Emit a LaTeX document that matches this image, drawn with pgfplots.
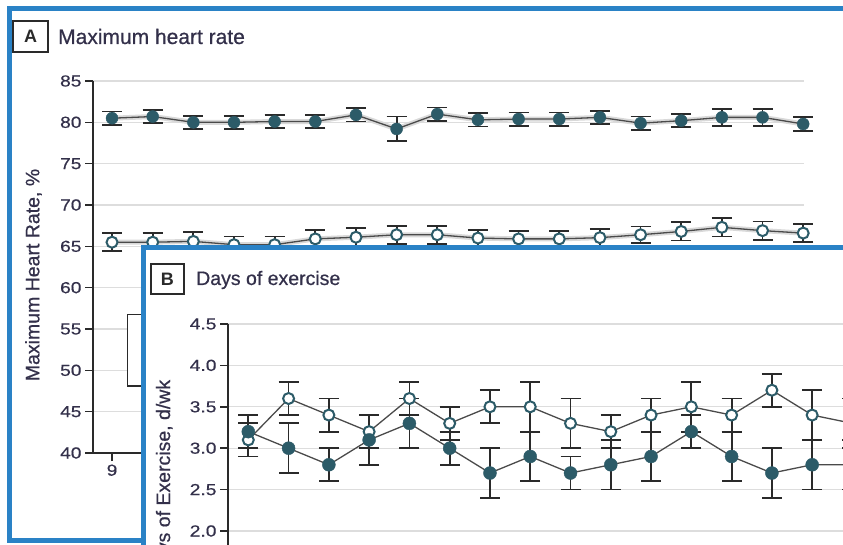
\documentclass[border=0pt]{standalone}
\usepackage{fontspec}
\setmainfont{Liberation Sans}
\newfontfamily\tickfont{Liberation Sans}[FakeStretch=1.2,FakeBold=0.4]
\newfontfamily\titlefont{Liberation Sans}[FakeBold=0.6]
\usepackage{pgfplots}
\usepackage{pgfplotstable}
\pgfplotsset{compat=1.18}

\definecolor{frameblue}{HTML}{2A82C6}
\definecolor{mteal}{HTML}{2C5B68}
\definecolor{gridgray}{HTML}{DDDDDD}
\definecolor{ink}{HTML}{2A2A2A}
\definecolor{txt}{HTML}{33304A}

\pgfplotstableread{
x y e
0 80.5 0.8
1 80.7 0.8
2 80.0 0.8
3 80.0 0.8
4 80.1 0.8
5 80.1 0.8
6 80.9 0.8
7 79.2 1.5
8 81.0 0.8
9 80.3 0.8
10 80.4 0.8
11 80.4 0.8
12 80.6 0.8
13 79.9 0.8
14 80.2 0.8
15 80.6 1.0
16 80.6 1.0
17 79.8 0.8
}\Afill

\pgfplotstableread{
x y e
0 65.5 1.1
1 65.5 1.1
2 65.6 1.1
3 65.2 1.0
4 65.2 1.0
5 65.9 1.1
6 66.1 1.1
7 66.4 1.1
8 66.4 1.1
9 66.0 1.0
10 65.9 1.0
11 65.9 1.0
12 66.05 1.0
13 66.4 1.0
14 66.8 1.1
15 67.3 1.1
16 66.9 1.1
17 66.6 1.1
}\Aopen

\pgfplotstableread{
x y e
0 3.2 0.2
1 3.0 0.3
2 2.8 0.2
3 3.1 0.3
4 3.3 0.3
5 3.0 0.2
6 2.7 0.3
7 2.9 0.3
8 2.7 0.2
9 2.8 0.3
10 2.9 0.3
11 3.2 0.2
12 2.9 0.3
13 2.7 0.3
14 2.8 0.3
15 2.8 0.3
}\Bfill

\pgfplotstableread{
x y e
0 3.1 0.2
1 3.6 0.2
2 3.4 0.2
3 3.2 0.2
4 3.6 0.2
5 3.3 0.2
6 3.5 0.2
7 3.5 0.3
8 3.3 0.3
9 3.2 0.2
10 3.4 0.2
11 3.5 0.3
12 3.4 0.2
13 3.7 0.2
14 3.4 0.3
15 3.3 0.3
}\Bopen

\pgfplotsset{
  panel/.style={
    scale only axis, clip=false,
    axis lines=left,
    axis line style={-, line width=1.5pt, draw=ink},
    tick style={line width=1.5pt, draw=ink},
    tick align=outside, major tick length=8pt,
    ymajorgrids, grid style={line width=1.3pt, draw=gridgray},
    tick label style={font=\tickfont\fontsize{16}{16}\selectfont, text=txt},
    /pgf/number format/assume math mode=true,
    label style={font=\titlefont\fontsize{19.5}{21}\selectfont, text=txt},
  },
  ebar/.style={
    error bars/y dir=both, error bars/y explicit,
    error bars/error bar style={line width=1.8pt, draw=ink, solid},
    error bars/error mark options={rotate=90, line width=1.8pt, draw=ink, mark size=10pt},
  },
  filledser/.style={draw=ink!85, line width=1.3pt, mark=*, mark size=#1,
    mark options={fill=mteal, draw=mteal, line width=0.4pt}},
  openser/.style={draw=ink!85, line width=1.3pt, mark=*, mark size=#1,
    mark options={fill=white, draw=mteal, line width=2pt}},
}

\begin{document}
\begin{tikzpicture}
\clip (0pt,0pt) rectangle (843pt,544pt);
\begin{scope}[x=1pt,y=1pt]
\fill[white] (0,0) rectangle (843,544);
% panel A frame
\draw[frameblue, line width=5pt] (9,3.5) rectangle (845,535.5);
\node[draw=ink, line width=1.5pt, minimum width=35pt, minimum height=31pt, inner sep=0pt,
      font=\bfseries\fontsize{18}{18}\selectfont, text=ink] at (30.5,507.5) {A};
\node[anchor=base west, inner sep=0pt, font=\titlefont\fontsize{21}{21}\selectfont, text=txt] at (58,500) {Maximum heart rate};
\end{scope}

\begin{axis}[panel,
  at={(93pt,91pt)}, anchor=south west,
  width=711pt, height=372pt,
  xmin=-0.468, xmax=17.02, ymin=40, ymax=85,
  ytick={40,45,50,55,60,65,70,75,80,85},
  xtick={0,1,2,3,4,5,6,7,8,9,10,11,12,13,14,15,16,17},
  xticklabels={9,10,11,12,13,14,15,16,17,18,19,20,21,22,23,24,25,26},
  ylabel={Maximum Heart Rate, \%},
  ylabel style={at={(axis description cs:-0.0837,0.4785)}, anchor=center},
]
\addplot[gray!30, line width=5pt, forget plot] table[x=x,y=y]{\Afill};
\addplot[gray!30, line width=5pt, forget plot] table[x=x,y=y]{\Aopen};
\addplot[filledser=6pt, ebar] table[x=x,y=y,y error=e]{\Afill};
\addplot[openser=5.5pt, ebar] table[x=x,y=y,y error=e]{\Aopen};
\end{axis}

\begin{scope}[x=1pt,y=1pt]
% legend box of panel A (mostly hidden)
\draw[ink, line width=1.5pt, fill=white] (127.3,229.7) rectangle (160,158);
% panel B frame
\filldraw[fill=white, draw=frameblue, line width=5.5pt] (143.5,-30) rectangle (900,296.5);
\node[draw=ink, line width=1.5pt, minimum width=33pt, minimum height=30pt, inner sep=0pt,
      font=\bfseries\fontsize{18}{18}\selectfont, text=ink] at (167.3,265) {B};
\node[anchor=base west, inner sep=0pt, font=\titlefont\fontsize{19.5}{20}\selectfont, text=txt] at (196,259) {Days of exercise};
\end{scope}

\begin{axis}[panel,
  at={(228pt,220pt)}, anchor=north west,
  width=707pt, height=289.8pt,
  xmin=-0.504, xmax=17.05, ymin=1.0, ymax=4.5,
  ytick={2.0,2.5,3.0,3.5,4.0,4.5},
  yticklabel style={/pgf/number format/.cd, fixed, fixed zerofill, precision=1},
  xtick={0,1,2,3,4,5,6,7,8,9,10,11,12,13,14,15},
  xticklabels={},
  ylabel={Days of Exercise, d/wk},
  ylabel style={at={(axis description cs:-0.0891,0.467)}, anchor=center},
]
\addplot[openser=5.5pt, ebar] table[x=x,y=y,y error=e]{\Bopen};
\addplot[filledser=6.5pt, ebar] table[x=x,y=y,y error=e]{\Bfill};
\end{axis}
\end{tikzpicture}
\end{document}
